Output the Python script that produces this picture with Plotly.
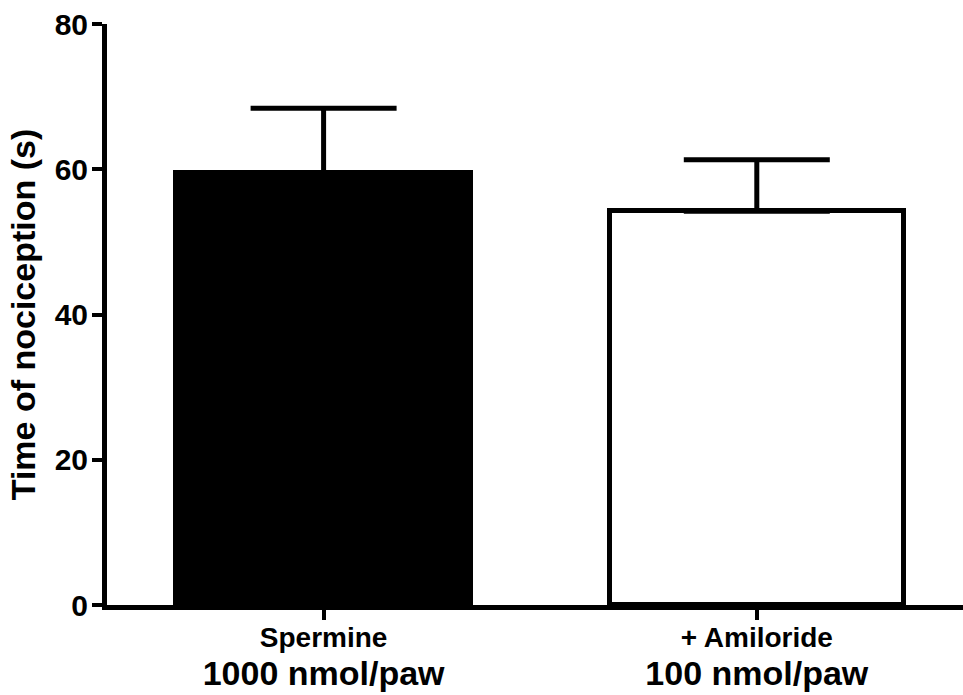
import plotly.graph_objects as go

line1 = ["Spermine", "+ Amiloride"]
line2 = ["1000 nmol/paw", "100 nmol/paw"]
means = [59.5, 54.2]
sem = [8.9, 7.1]
fills = ["black", "white"]
y_ticks = [0, 20, 40, 60, 80]

FONT = "Arial, 'Liberation Sans', sans-serif"

ticktext = [f"<span style='font-size:28px'>{a}</span><br><span style='font-size:34px'>{b}</span>"
            for a, b in zip(line1, line2)]

fig = go.Figure()
fig.add_trace(go.Bar(
    x=[0, 1], y=means, width=0.68,
    marker=dict(color=fills, line=dict(color="black", width=5)),
    error_y=dict(type="data", array=sem, arrayminus=[0, 0], symmetric=False,
                 color="black", thickness=5, width=73),
))

fig.update_layout(
    width=963, height=695,
    margin=dict(l=107, r=0, t=24, b=90),
    paper_bgcolor="white", plot_bgcolor="white",
    showlegend=False, bargap=0,
    font=dict(family=FONT, color="black"),
    xaxis=dict(range=[-0.5, 1.476], tickvals=[0, 1], ticktext=ticktext,
               automargin=False, ticklabelstandoff=-8,
               showline=True, linewidth=5, linecolor="black",
               ticks="outside", ticklen=10, tickwidth=4, tickcolor="black",
               tickfont=dict(family=FONT, size=29, color="black", weight="bold"),
               showgrid=False, zeroline=False),
    yaxis=dict(range=[0, 80], tickvals=y_ticks, automargin=False,
               ticklabelstandoff=-2,
               showline=True, linewidth=5, linecolor="black",
               ticks="outside", ticklen=10, tickwidth=4, tickcolor="black",
               tickfont=dict(family=FONT, size=30, color="black", weight="bold"),
               showgrid=False, zeroline=False,
               title=dict(text="Time of nociception (s)", standoff=10,
                          font=dict(family=FONT, size=34, color="black", weight="bold"))),
)

fig.write_html("out.html", config={"displayModeBar": False},
               post_script="document.body.style.margin='0';")
